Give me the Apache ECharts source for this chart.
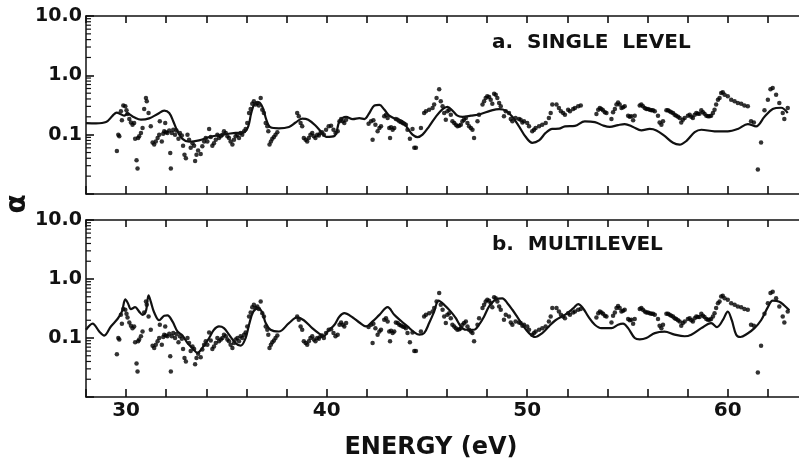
<!DOCTYPE html>
<html>
<head>
<meta charset="utf-8">
<script src="https://cdn.jsdelivr.net/npm/echarts@6/dist/echarts.min.js"></script>
<style>
  html, body { margin: 0; padding: 0; background: #fff; }
  #chart { width: 799px; height: 459px; }
</style>
</head>
<body>
<div id="chart"></div>
<script>
// Energy axis (eV)
const energyMin = 28;
const energyMax = 64;
const energyStep = 2;
const energyLabels = [30, 40, 50, 60];

// Alpha axis (log)
const alphaMin = 0.01;
const alphaMax = 10;
const alphaLabelValues = [0.1, 1, 10];
const alphaLabelText = ['0.1', '1.0', '10.0'];
const alphaMinor = [0.02, 0.03, 0.04, 0.05, 0.06, 0.07, 0.08, 0.09,
                    0.2, 0.3, 0.4, 0.5, 0.6, 0.7, 0.8, 0.9,
                    2, 3, 4, 5, 6, 7, 8, 9];

const panelTitles = ['a.  SINGLE  LEVEL', 'b.  MULTILEVEL'];

// Calculated alpha, single-level fit  [E (eV), alpha]
const singleLevel = [
  [28.0,0.157],[28.5,0.155],[29.0,0.163],[29.33,0.209],[29.53,0.235],[29.74,0.22],[29.91,0.209],
  [30.07,0.226],[30.40,0.196],[30.74,0.179],[31.15,0.188],[31.57,0.223],[31.90,0.254],[32.15,0.232],
  [32.35,0.168],[32.56,0.114],[32.81,0.085],[33.14,0.076],[33.64,0.080],[34.14,0.091],[34.80,0.100],
  [35.46,0.107],[35.88,0.110],[36.09,0.138],[36.24,0.232],[36.41,0.333],[36.62,0.35],[36.82,0.28],
  [36.99,0.179],[37.20,0.133],[37.62,0.128],[38.12,0.135],[38.45,0.16],[38.78,0.186],[39.08,0.179],
  [39.44,0.143],[39.77,0.107],[39.97,0.092],[40.39,0.095],[40.64,0.168],[40.97,0.2],[41.30,0.183],
  [41.63,0.19],[41.88,0.183],[42.13,0.232],[42.38,0.309],[42.63,0.317],[42.87,0.265],[43.12,0.209],
  [43.45,0.183],[43.79,0.168],[44.03,0.129],[44.28,0.1],[44.53,0.091],[44.78,0.1],[45.11,0.138],
  [45.44,0.2],[45.78,0.27],[46.02,0.295],[46.27,0.254],[46.52,0.209],[46.77,0.2],[47.19,0.209],
  [47.68,0.223],[48.18,0.254],[48.60,0.27],[48.93,0.254],[49.26,0.2],[49.59,0.138],[49.92,0.092],
  [50.25,0.073],[50.59,0.08],[50.92,0.107],[51.25,0.125],[51.58,0.126],[51.88,0.138],[52.38,0.141],
  [52.87,0.168],[53.37,0.163],[53.78,0.143],[54.12,0.135],[54.53,0.145],[54.86,0.151],[55.28,0.135],
  [55.69,0.118],[56.11,0.125],[56.44,0.118],[56.85,0.095],[57.27,0.073],[57.60,0.068],[57.93,0.078],
  [58.35,0.110],[58.68,0.121],[59.34,0.114],[60.0,0.114],[60.50,0.125],[61.0,0.151],[61.41,0.138],
  [61.83,0.2],[62.24,0.27],[62.66,0.284],[62.99,0.232]
];

// Calculated alpha, multilevel fit  [E (eV), alpha]
const multiLevel = [
  [28.0,0.138],[28.33,0.175],[28.66,0.129],[28.91,0.11],[29.24,0.157],[29.58,0.212],[29.79,0.28],
  [29.96,0.45],[30.09,0.389],[30.24,0.309],[30.45,0.333],[30.65,0.28],[30.82,0.247],[30.99,0.29],
  [31.12,0.53],[31.23,0.413],[31.40,0.27],[31.65,0.2],[31.90,0.238],[32.06,0.241],[32.31,0.191],
  [32.56,0.129],[32.81,0.11],[33.06,0.082],[33.31,0.067],[33.56,0.056],[33.80,0.068],[34.14,0.1],
  [34.38,0.138],[34.63,0.157],[34.88,0.147],[35.13,0.114],[35.46,0.082],[35.71,0.074],[35.96,0.1],
  [36.13,0.168],[36.34,0.28],[36.59,0.317],[36.79,0.27],[36.96,0.179],[37.20,0.138],[37.62,0.129],
  [38.12,0.179],[38.53,0.223],[38.86,0.2],[39.28,0.147],[39.61,0.12],[39.86,0.107],[40.05,0.129],
  [40.39,0.168],[40.64,0.232],[40.88,0.264],[41.30,0.223],[41.63,0.183],[41.96,0.157],[42.29,0.191],
  [42.63,0.247],[43.04,0.333],[43.37,0.247],[43.70,0.196],[44.03,0.157],[44.37,0.125],[44.62,0.114],
  [44.86,0.121],[45.11,0.179],[45.36,0.28],[45.58,0.43],[45.86,0.365],[46.19,0.28],[46.44,0.217],
  [46.69,0.157],[46.94,0.138],[47.35,0.138],[47.60,0.168],[47.85,0.232],[48.10,0.342],[48.43,0.45],
  [48.76,0.47],[49.01,0.389],[49.26,0.301],[49.51,0.226],[49.76,0.168],[50.09,0.121],[50.39,0.104],
  [50.75,0.121],[51.08,0.157],[51.41,0.2],[51.88,0.247],[52.29,0.317],[52.54,0.376],[52.79,0.317],
  [53.04,0.232],[53.37,0.168],[53.70,0.147],[54.20,0.147],[54.53,0.168],[54.78,0.175],[55.03,0.147],
  [55.36,0.1],[55.61,0.095],[55.94,0.1],[56.36,0.121],[56.85,0.128],[57.35,0.114],[57.85,0.107],
  [58.18,0.114],[58.68,0.147],[59.17,0.179],[59.46,0.153],[59.75,0.2],[60.0,0.28],[60.20,0.2],
  [60.42,0.114],[60.63,0.104],[60.97,0.118],[61.33,0.147],[61.66,0.2],[62.0,0.333],[62.24,0.43],
  [62.57,0.413],[62.82,0.355],[63.07,0.295]
];

// Measured alpha  [E (eV), alpha]
const measured = [
  [29.54,0.053],[29.61,0.100],[29.66,0.094],[29.74,0.247],[29.79,0.175],[29.86,0.31],[29.96,0.301],
  [30.02,0.257],[30.07,0.223],[30.16,0.183],[30.24,0.161],[30.32,0.147],[30.40,0.157],[30.45,0.085],
  [30.52,0.037],[30.57,0.027],[30.60,0.088],[30.65,0.094],[30.74,0.107],[30.82,0.129],[30.90,0.271],
  [30.99,0.415],[31.03,0.365],[31.12,0.232],[31.23,0.138],[31.32,0.074],[31.40,0.068],[31.48,0.077],
  [31.57,0.088],[31.65,0.1],[31.68,0.168],[31.78,0.077],[31.85,0.104],[31.90,0.114],[31.95,0.157],
  [31.98,0.11],[32.06,0.107],[32.15,0.118],[32.20,0.049],[32.23,0.027],[32.28,0.107],[32.35,0.121],
  [32.44,0.1],[32.51,0.117],[32.61,0.085],[32.68,0.107],[32.78,0.097],[32.84,0.065],[32.91,0.046],
  [32.98,0.04],[33.06,0.1],[33.14,0.082],[33.22,0.06],[33.31,0.072],[33.39,0.065],[33.44,0.036],
  [33.51,0.046],[33.59,0.054],[33.72,0.047],[33.80,0.064],[33.89,0.077],[33.97,0.088],[34.05,0.077],
  [34.14,0.124],[34.22,0.091],[34.30,0.065],[34.38,0.072],[34.47,0.082],[34.55,0.1],[34.63,0.088],
  [34.72,0.094],[34.80,0.1],[34.88,0.114],[34.97,0.107],[35.05,0.094],[35.13,0.088],[35.21,0.077],
  [35.30,0.068],[35.38,0.082],[35.46,0.094],[35.55,0.1],[35.63,0.088],[35.71,0.107],[35.79,0.1],
  [35.88,0.114],[35.96,0.124],[36.04,0.157],[36.13,0.232],[36.21,0.271],[36.29,0.333],[36.37,0.365],
  [36.46,0.321],[36.54,0.342],[36.62,0.31],[36.71,0.415],[36.79,0.264],[36.87,0.232],[36.96,0.157],
  [37.04,0.138],[37.09,0.114],[37.15,0.068],[37.22,0.077],[37.29,0.085],[37.37,0.091],[37.45,0.1],
  [37.54,0.11],
  [38.53,0.232],[38.61,0.204],[38.70,0.157],[38.78,0.138],[38.86,0.088],[38.95,0.082],[39.03,0.077],
  [39.11,0.088],[39.19,0.1],[39.28,0.107],[39.36,0.094],[39.44,0.088],[39.53,0.1],[39.61,0.097],
  [39.69,0.107],[39.77,0.11],[39.86,0.1],[39.97,0.121],[40.10,0.138],[40.22,0.141],[40.34,0.121],
  [40.44,0.107],[40.55,0.114],[40.64,0.168],[40.72,0.183],[40.80,0.168],[40.88,0.157],[40.97,0.179],
  [42.09,0.153],[42.21,0.168],[42.29,0.082],[42.33,0.175],[42.43,0.147],[42.54,0.114],[42.63,0.129],
  [42.71,0.138],[42.87,0.204],[42.96,0.217],[43.04,0.191],[43.12,0.129],[43.16,0.088],[43.21,0.133],
  [43.29,0.121],[43.37,0.129],[43.45,0.183],[43.54,0.179],[43.62,0.168],[43.70,0.163],[43.79,0.157],
  [43.87,0.153],[43.95,0.147],[44.03,0.121],[44.15,0.085],[44.28,0.124],[44.37,0.06],[44.45,0.06],
  [44.70,0.129],[44.86,0.232],[44.95,0.247],[45.11,0.264],[45.28,0.282],[45.36,0.321],[45.48,0.415],
  [45.61,0.58],[45.69,0.365],[45.78,0.301],[45.86,0.232],[45.94,0.179],[46.02,0.247],[46.11,0.264],
  [46.19,0.217],[46.27,0.168],[46.36,0.157],[46.44,0.147],[46.52,0.138],[46.61,0.141],[46.69,0.147],
  [46.77,0.168],[46.85,0.179],[46.94,0.191],[47.02,0.157],[47.10,0.138],[47.19,0.129],[47.27,0.121],
  [47.35,0.088],[47.52,0.168],[47.60,0.217],[47.77,0.321],[47.85,0.365],[47.93,0.415],[48.01,0.443],
  [48.10,0.43],[48.18,0.389],[48.26,0.333],[48.35,0.49],[48.43,0.47],[48.51,0.415],[48.60,0.342],
  [48.68,0.301],[48.84,0.204],[48.93,0.247],[49.09,0.232],[49.18,0.183],[49.26,0.168],[49.42,0.191],
  [49.59,0.183],[49.67,0.179],[49.76,0.161],[49.84,0.168],[50.0,0.157],[50.09,0.138],[50.25,0.114],
  [50.34,0.121],[50.42,0.129],[50.59,0.138],[50.75,0.147],[50.92,0.157],[51.08,0.191],[51.17,0.232],
  [51.25,0.321],
  [51.46,0.321],[51.58,0.282],[51.68,0.247],[51.79,0.232],[51.88,0.217],[52.04,0.264],[52.13,0.247],
  [52.29,0.271],[52.38,0.282],[52.54,0.301],[52.67,0.31],[53.45,0.223],[53.54,0.264],[53.62,0.282],
  [53.70,0.271],[53.78,0.257],[53.87,0.238],[53.95,0.232],[54.20,0.183],[54.28,0.238],[54.37,0.271],
  [54.45,0.321],[54.53,0.35],[54.61,0.321],[54.70,0.282],[54.78,0.29],[54.86,0.301],[55.03,0.209],
  [55.11,0.2],[55.19,0.204],[55.28,0.175],[55.36,0.209],[55.61,0.31],[55.69,0.321],[55.77,0.301],
  [55.86,0.282],[55.94,0.271],[56.02,0.271],[56.11,0.264],[56.19,0.257],[56.27,0.257],[56.36,0.247],
  [56.52,0.209],[56.60,0.161],[56.69,0.147],[56.77,0.168],[56.94,0.257],[57.02,0.257],[57.10,0.247],
  [57.18,0.238],[57.27,0.232],[57.35,0.217],[57.43,0.209],[57.52,0.2],[57.60,0.191],[57.68,0.161],
  [57.76,0.179],[57.85,0.191],[58.01,0.209],[58.10,0.217],[58.18,0.2],[58.26,0.191],[58.35,0.217],
  [58.43,0.232],[58.51,0.226],[58.59,0.226],[58.68,0.257],[58.76,0.238],[58.84,0.226],[58.93,0.209],
  [59.01,0.204],[59.09,0.204],[59.17,0.209],[59.26,0.232],[59.34,0.264],[59.42,0.321],[59.51,0.389],
  [59.59,0.415],[59.67,0.504],[59.75,0.52],[59.84,0.47],[60.0,0.443],[60.17,0.389],[60.34,0.365],
  [60.50,0.342],[60.67,0.333],[60.83,0.31],[61.0,0.301],[61.16,0.168],[61.30,0.161],[61.50,0.026],
  [61.66,0.074],[61.83,0.257],[62.0,0.389],[62.13,0.58],[62.24,0.61],[62.41,0.47],[62.57,0.342],
  [62.74,0.232],[62.82,0.183],[62.99,0.282]
];

const ink = '#111111';
const font = 'DejaVu Sans';
const chart = echarts.init(document.getElementById('chart'), null, { renderer: 'canvas' });

// The energy scale runs past the right edge of the page (crop at ~63.5 eV)
const grids = [
  { left: 86, top: 16, width: 722, height: 178, outerBoundsMode: 'none', containLabel: false },
  { left: 86, top: 220, width: 722, height: 177, outerBoundsMode: 'none', containLabel: false }
];

const frameLine = { show: true, lineStyle: { color: ink, width: 1.5 } };
const tickStyle = { color: ink, width: 1.6 };

const xAxes = [];
const yAxes = [];
const series = [];
const curves = [singleLevel, multiLevel];

grids.forEach((g, i) => {
  // bottom energy axis
  xAxes.push({
    gridIndex: i, type: 'value', position: 'bottom', min: energyMin, max: energyMax, interval: energyStep,
    axisLine: frameLine,
    axisTick: { show: true, inside: true, length: 8, lineStyle: tickStyle },
    axisLabel: {
      show: i === 1, margin: 4, color: ink, fontFamily: font, fontWeight: 'bold', fontSize: 20,
      formatter: (v) => energyLabels.indexOf(v) >= 0 ? String(v) : ''
    },
    splitLine: { show: false }
  });
  // top frame with ticks
  xAxes.push({
    gridIndex: i, type: 'value', position: 'top', min: energyMin, max: energyMax, interval: energyStep,
    axisLine: frameLine,
    axisTick: { show: true, inside: true, length: 7, lineStyle: tickStyle },
    axisLabel: { show: false },
    splitLine: { show: false }
  });
  // decade ticks and labels
  yAxes.push({
    gridIndex: i, type: 'log', logBase: 10, position: 'left', min: alphaMin, max: alphaMax,
    axisLine: frameLine,
    axisTick: { show: true, inside: true, length: 8, lineStyle: tickStyle },
    axisLabel: {
      margin: 4, color: ink, fontFamily: font, fontWeight: 'bold', fontSize: 19,
      formatter: (v) => {
        const k = alphaLabelValues.findIndex(t => Math.abs(Math.log10(v) - Math.log10(t)) < 1e-6);
        return k >= 0 ? alphaLabelText[k] : '';
      }
    },
    splitLine: { show: false }
  });

  // minor ticks inside each decade, placed through the axis scales
  series.push({
    type: 'custom', xAxisIndex: i * 2, yAxisIndex: i, silent: true, clip: false, z: 5,
    data: alphaMinor.map(v => [energyMin, v]),
    renderItem: (params, api) => {
      const p = api.coord([api.value(0), api.value(1)]);
      return {
        type: 'line',
        shape: { x1: p[0], y1: p[1], x2: p[0] + 5, y2: p[1] },
        style: { stroke: ink, lineWidth: 1.2 }
      };
    }
  });
  series.push({
    type: 'scatter', xAxisIndex: i * 2, yAxisIndex: i,
    data: measured, symbol: 'circle', symbolSize: 4.5,
    itemStyle: { color: '#000' }, silent: true, z: 3
  });
  series.push({
    type: 'line', xAxisIndex: i * 2, yAxisIndex: i,
    data: curves[i], smooth: 0.35, showSymbol: false,
    lineStyle: { color: ink, width: 2.2 }, silent: true, z: 4
  });
});

chart.setOption({
  animation: false,
  backgroundColor: '#ffffff',
  grid: grids,
  xAxis: xAxes,
  yAxis: yAxes,
  series: series,
  graphic: [
    { type: 'text', left: 492, top: 33, style: { text: panelTitles[0], fill: ink,
      font: 'bold 20px "DejaVu Sans"' } },
    { type: 'text', left: 492, top: 235, style: { text: panelTitles[1], fill: ink,
      font: 'bold 20px "DejaVu Sans"' } },
    { type: 'text', x: 18, y: 204, rotation: Math.PI / 2,
      style: { text: 'α', fill: ink, font: 'bold 28px "DejaVu Sans"', align: 'center', verticalAlign: 'middle' } },
    { type: 'text', x: 431, y: 448,
      style: { text: 'ENERGY (eV)', fill: ink, font: 'bold 24px "DejaVu Sans"', align: 'center', verticalAlign: 'middle' } }
  ]
});
</script>
</body>
</html>
